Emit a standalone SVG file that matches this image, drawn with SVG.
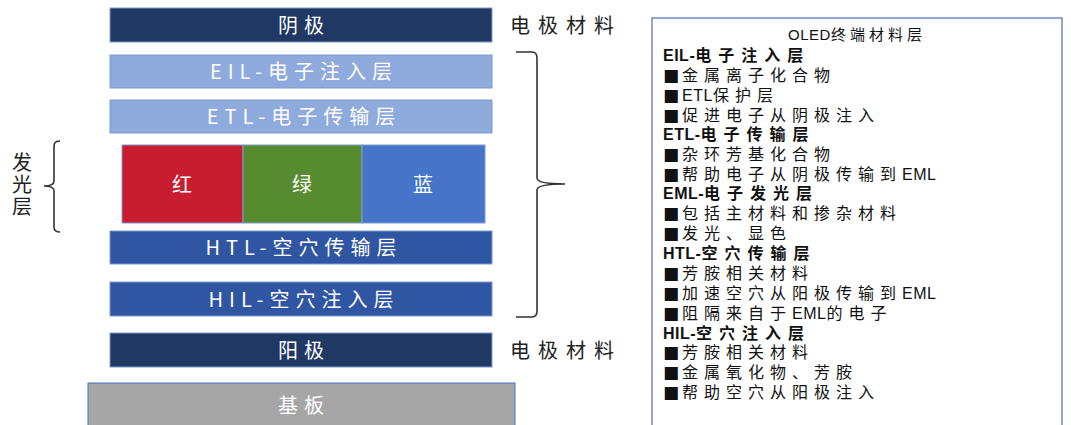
<svg xmlns="http://www.w3.org/2000/svg" width="1071" height="425" viewBox="0 0 1071 425">
<style>
.box{stroke:#7F9BD0;stroke-width:1}
.lbl{font-family:"Noto Sans CJK SC","Noto Sans",sans-serif;font-size:20px;fill:#ffffff;text-anchor:middle;letter-spacing:6px}
.side{font-family:"Noto Sans CJK SC","Noto Sans",sans-serif;font-size:20px;fill:#222222;letter-spacing:8px}
.pt{font-family:"Liberation Sans","Noto Sans CJK SC",sans-serif;font-size:16px;fill:#111111;letter-spacing:6px}
.hd{font-weight:bold;letter-spacing:7px}
.lat{letter-spacing:0.5px}
.sq{font-family:"DejaVu Sans",sans-serif;font-size:17px;letter-spacing:3px}
.brace{fill:none;stroke:#333333;stroke-width:1.6}
</style>
<g id="cathode"><rect class="box" x="110" y="8" width="382" height="34" fill="#203864"/><text class="lbl" x="304" y="32.5">阴极</text></g>
<g id="eil"><rect class="box" x="110" y="55" width="382" height="33" fill="#8FAADC"/><text class="lbl" x="304" y="79">EIL-电子注入层</text></g>
<g id="etl"><rect class="box" x="110" y="100" width="382" height="33" fill="#8FAADC"/><text class="lbl" x="304" y="124">ETL-电子传输层</text></g>
<g id="eml">
<rect class="box" x="122" y="145" width="121" height="78" fill="#C81D31"/>
<rect class="box" x="243" y="145" width="119" height="78" fill="#568B30"/>
<rect class="box" x="362" y="145" width="123" height="78" fill="#4674C8"/>
<text class="lbl" x="185" y="191.5">红</text>
<text class="lbl" x="305" y="191.5">绿</text>
<text class="lbl" x="426" y="191.5">蓝</text>
</g>
<g id="htl"><rect class="box" x="110" y="231" width="382" height="33" fill="#2F55A3"/><text class="lbl" x="304" y="255">HTL-空穴传输层</text></g>
<g id="hil"><rect class="box" x="110" y="282" width="382" height="34" fill="#2F55A3"/><text class="lbl" x="304" y="306.5">HIL-空穴注入层</text></g>
<g id="anode"><rect class="box" x="110" y="333" width="382" height="34" fill="#203864"/><text class="lbl" x="304" y="357.5">阳极</text></g>
<g id="substrate"><rect x="88" y="383" width="427" height="50" fill="#A6A6A6" stroke="#4472C4" stroke-width="1"/><text class="lbl" x="304" y="412.5">基板</text></g>
<g id="electrode-labels">
<text class="side" x="510" y="32.5">电极材料</text>
<text class="side" x="510" y="357.5">电极材料</text>
</g>
<g id="emission-label">
<text x="22" y="152" style="writing-mode:vertical-rl;font-family:'Noto Sans CJK SC',sans-serif;font-size:20px;fill:#222222;letter-spacing:2px">发光层</text>
</g>
<g id="connectors">
<path class="brace" d="M60,141 Q54,141 54,146 L54,181 Q54,186 44,186 Q54,186 54,191 L54,227 Q54,232 60,232"/>
<path class="brace" d="M516,52 L532,52 Q537,52 537,58 L537,178 Q537,184 565,184 Q537,184 537,190 L537,311 Q537,317 532,317 L516,317"/>
</g>
<g id="panel">
<rect x="652" y="18" width="410" height="420" fill="#ffffff" stroke="#4F6FB0" stroke-width="1.2"/>
<text class="pt" x="857" y="40" text-anchor="middle" style="font-size:15px;letter-spacing:4px"><tspan class="lat">OLED</tspan><tspan>终端材料层</tspan></text>
<text class="pt hd" x="663" y="61"><tspan class="lat">EIL-</tspan><tspan>电子注入层</tspan></text>
<text class="pt" x="663" y="81"><tspan class="sq">■</tspan><tspan>金属离子化合物</tspan></text>
<text class="pt" x="663" y="101"><tspan class="sq">■</tspan><tspan class="lat">ETL</tspan><tspan>保护层</tspan></text>
<text class="pt" x="663" y="120.5"><tspan class="sq">■</tspan><tspan>促进电子从阴极注入</tspan></text>
<text class="pt hd" x="663" y="140"><tspan class="lat">ETL-</tspan><tspan>电子传输层</tspan></text>
<text class="pt" x="663" y="160"><tspan class="sq">■</tspan><tspan>杂环芳基化合物</tspan></text>
<text class="pt" x="663" y="180"><tspan class="sq">■</tspan><tspan>帮助电子从阴极传输到</tspan><tspan class="lat">EML</tspan></text>
<text class="pt hd" x="663" y="199"><tspan class="lat">EML-</tspan><tspan>电子发光层</tspan></text>
<text class="pt" x="663" y="219"><tspan class="sq">■</tspan><tspan>包括主材料和掺杂材料</tspan></text>
<text class="pt" x="663" y="239"><tspan class="sq">■</tspan><tspan>发光、显色</tspan></text>
<text class="pt hd" x="663" y="259"><tspan class="lat">HTL-</tspan><tspan>空穴传输层</tspan></text>
<text class="pt" x="663" y="279"><tspan class="sq">■</tspan><tspan>芳胺相关材料</tspan></text>
<text class="pt" x="663" y="299"><tspan class="sq">■</tspan><tspan>加速空穴从阳极传输到</tspan><tspan class="lat">EML</tspan></text>
<text class="pt" x="663" y="319"><tspan class="sq">■</tspan><tspan>阻隔来自于</tspan><tspan class="lat">EML</tspan><tspan>的电子</tspan></text>
<text class="pt hd" x="663" y="339"><tspan class="lat">HIL-</tspan><tspan>空穴注入层</tspan></text>
<text class="pt" x="663" y="358"><tspan class="sq">■</tspan><tspan>芳胺相关材料</tspan></text>
<text class="pt" x="663" y="378"><tspan class="sq">■</tspan><tspan>金属氧化物、芳胺</tspan></text>
<text class="pt" x="663" y="398"><tspan class="sq">■</tspan><tspan>帮助空穴从阳极注入</tspan></text>
</g>
</svg>
